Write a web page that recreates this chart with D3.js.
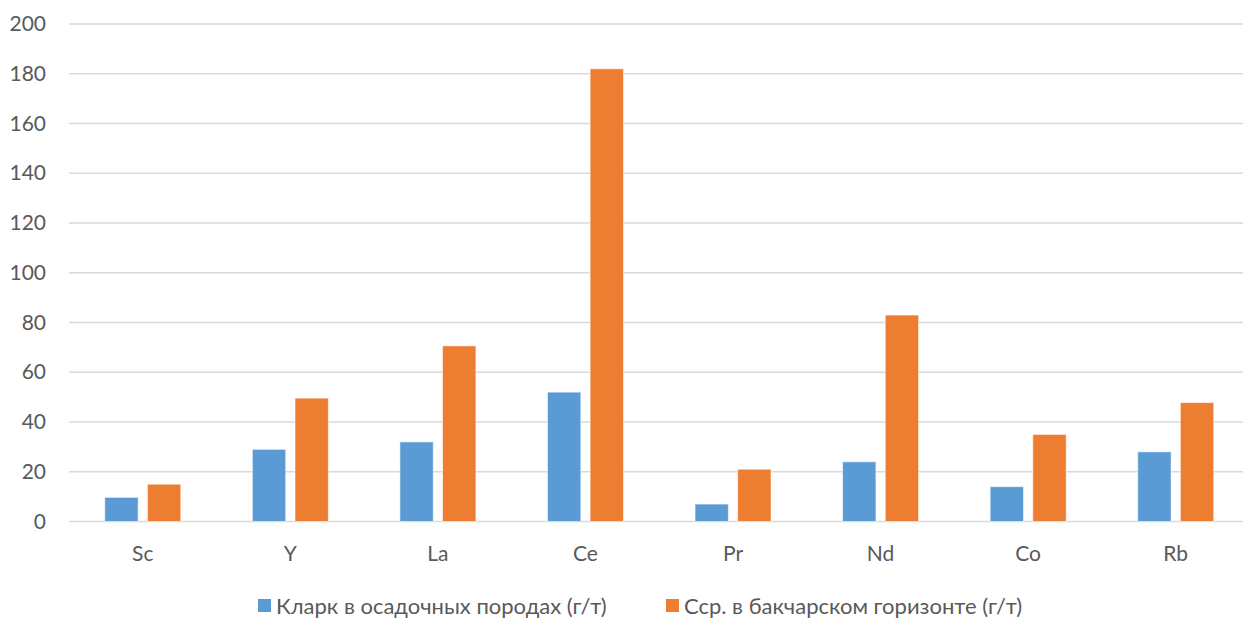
<!DOCTYPE html>
<html>
<head>
<meta charset="utf-8">
<script src="https://cdn.jsdelivr.net/npm/d3@7"></script>
<style>
  html, body { margin: 0; padding: 0; background: #fff; }
  svg { display: block; }
  text { font-family: Lato, "Open Sans", sans-serif; fill: #595959; }
</style>
</head>
<body>
<svg id="chart" width="1243" height="619"></svg>
<script>
// Element abundances, g/t
const elements = ["Sc", "Y", "La", "Ce", "Pr", "Nd", "Co", "Rb"];
const seriesNames = ["Кларк в осадочных породах (г/т)", "Сср. в бакчарском горизонте (г/т)"];
const clarke = [9.7, 29, 32, 52, 7, 24, 14, 28];
const bakchar = [15, 49.6, 70.6, 182, 21, 83, 35, 47.8];
const yTicks = [0, 20, 40, 60, 80, 100, 120, 140, 160, 180, 200];
const colors = ["#5B9BD5", "#ED7D31"];

const svg = d3.select("#chart");
const W = 1243, H = 619;
const plot = { left: 69, right: 1249.5, top: 24, bottom: 521.5 };

const y = d3.scaleLinear().domain([0, 200]).range([plot.bottom, plot.top]);
const x0 = d3.scaleBand().domain(elements).range([plot.left, plot.right]).padding(0);
const half = 38;
const x1 = d3.scaleBand().domain([0, 1])
  .range([x0.bandwidth() / 2 - half, x0.bandwidth() / 2 + half])
  .paddingInner(0.218).paddingOuter(0);

// gridlines
svg.append("defs").append("clipPath").attr("id", "c")
  .append("rect").attr("x", 0).attr("y", 0).attr("width", W).attr("height", H);

svg.append("g").attr("clip-path", "url(#c)")
  .selectAll("line").data(yTicks).join("line")
  .attr("x1", plot.left).attr("x2", plot.right)
  .attr("y1", d => y(d)).attr("y2", d => y(d))
  .attr("stroke", "#D9D9D9").attr("stroke-width", 1.5);

// y labels
const yAxis = d3.axisLeft(y).tickValues(yTicks).tickSize(0).tickPadding(0);
const gy = svg.append("g").attr("transform", "translate(46,0)").call(yAxis);
gy.select(".domain").remove();
gy.selectAll("text").attr("font-size", 21).attr("fill", "#595959")
  .style("font-family", "Lato, sans-serif");

// bars
const rows = elements.map((e, i) => ({ e, vals: [clarke[i], bakchar[i]] }));
const groups = svg.append("g").selectAll("g").data(rows).join("g")
  .attr("transform", d => `translate(${x0(d.e)},0)`);
groups.selectAll("rect").data(d => d.vals.map((v, k) => ({ v, k }))).join("rect")
  .attr("x", d => x1(d.k))
  .attr("width", x1.bandwidth())
  .attr("y", d => y(d.v))
  .attr("height", d => y(0) - y(d.v))
  .attr("fill", d => colors[d.k])
  .attr("stroke", "#ffffff").attr("stroke-opacity", 0.55).attr("stroke-width", 1);

// category labels
const xAxis = d3.axisBottom(x0).tickSize(0).tickPadding(0);
const gx = svg.append("g").attr("transform", "translate(0,561)").call(xAxis);
gx.select(".domain").remove();
gx.selectAll("text").attr("font-size", 21).attr("dy", 0).attr("fill", "#595959")
  .style("font-family", "Lato, sans-serif");

// legend
const legend = svg.append("g").attr("transform", "translate(0,606)");
const legendItems = [{ x: 258, t: seriesNames[0], c: colors[0] }, { x: 666, t: seriesNames[1], c: colors[1] }];
const li = legend.selectAll("g").data(legendItems).join("g")
  .attr("transform", d => `translate(${d.x},0)`);
li.append("rect").attr("x", 0).attr("y", -7).attr("width", 13).attr("height", 13)
  .attr("fill", d => d.c);
li.append("text").attr("x", 18).attr("y", 7.5).attr("font-size", 22).text(d => d.t);
</script>
</body>
</html>
